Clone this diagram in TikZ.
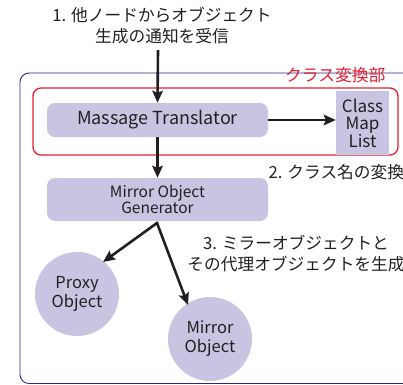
\documentclass[tikz,border=0pt]{standalone}
\usepackage{fontspec}
\setmainfont{Noto Sans CJK JP}
\usetikzlibrary{arrows.meta}
\definecolor{lav}{RGB}{200,197,226}
\definecolor{frameblue}{RGB}{40,40,140}
\definecolor{framered}{RGB}{230,30,45}
\definecolor{ink}{RGB}{35,31,32}
\tikzset{
  box/.style={fill=lav, rounded corners=8pt, inner sep=0pt, text=ink},
  ball/.style={circle, fill=lav, minimum size=84pt, inner sep=0pt, align=center, text=ink, font=\fontsize{16.5}{19}\selectfont},
  flow/.style={draw=ink, line width=2.6pt, -{Stealth[length=12pt,width=10.5pt,inset=2pt]}},
  note/.style={text=ink, align=center, font=\fontsize{16.7}{21}\selectfont},
}
\begin{document}
\begin{tikzpicture}[x=1pt,y=-1pt]
\useasboundingbox (0,0) rectangle (403,384);
\clip (0,0) rectangle (403,384);
% outer frame
\draw[frameblue, line width=0.9pt, rounded corners=9pt] (20,73) rectangle (440,383.5);
\node[text=framered, anchor=east, font=\fontsize{16.8}{18}\selectfont] (clslabel) at (389,75) {クラス変換部};
% red frame
\draw[framered, line width=1.3pt, rounded corners=8pt] (33,88) rectangle (398,155);
% nodes
\node[note] (t1) at (162,26) {1. 他ノードからオブジェクト\\生成の通知を受信};
\coordinate (in) at (158,50);
\node[box, minimum width=221pt, minimum height=34pt, font=\fontsize{18}{20}\selectfont] (mt) at (157.5,120) {Massage Translator};
\node[fill=lav, minimum width=53pt, minimum height=64pt, inner sep=0pt, align=center, text=ink, font=\fontsize{17}{17.5}\selectfont] (cml) at (362.5,123) {Class\\Map\\List};
\node[box, minimum width=221pt, minimum height=43pt, align=center, font=\fontsize{15.5}{16.5}\selectfont] (mog) at (157.5,199.5) {Mirror Object\\Generator};
\node[ball] (proxy) at (77,294) {Proxy\\Object};
\node[ball] (mirror) at (210,339) {Mirror\\Object};
\node[note, anchor=west] (t2) at (265,172) {2. クラス名の変換};
\node[note] (t3) at (296,254) {3. ミラーオブジェクトと\\その代理オブジェクトを生成};
\coordinate (split) at (157,223);
% connectors
\draw[flow] (in) -- (mt.north);
\draw[flow] (mt.east) -- (cml.west |- mt.east);
\draw[flow] (mt.south) -- (mog.north);
\draw[flow, shorten <=-1pt] (split) -- (103,262);
\draw[flow, shorten <=-1pt] (split) -- (188,305);
\end{tikzpicture}
\end{document}
